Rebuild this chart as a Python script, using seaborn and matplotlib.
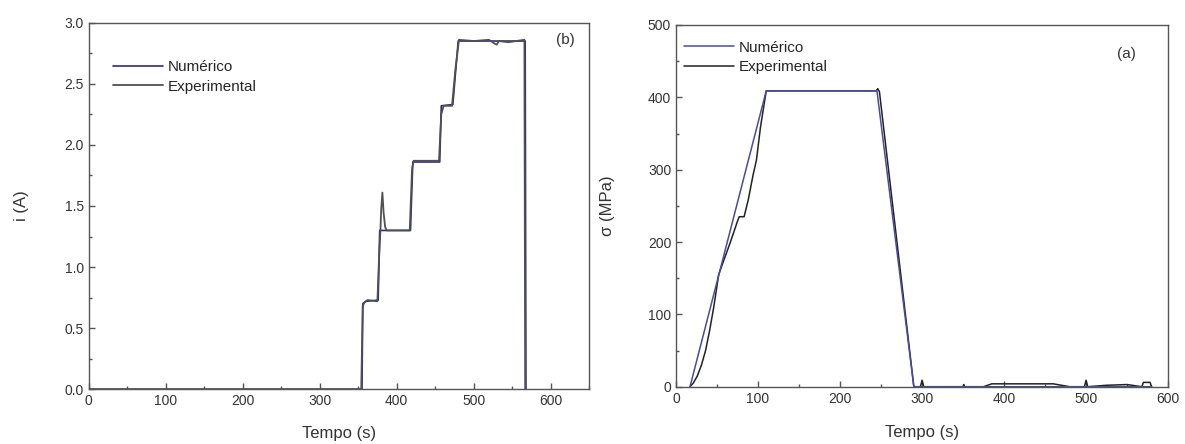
import numpy as np
import pandas as pd
import matplotlib
matplotlib.use("Agg")
import matplotlib.pyplot as plt
from matplotlib.ticker import MultipleLocator
import seaborn as sns

# (b) corrente - numerico / experimental
t_num_i = [0, 355, 356, 360, 376, 378, 418, 421, 456, 458, 473, 480, 567, 568]
i_num = [0, 0, 0.70, 0.72, 0.73, 1.30, 1.30, 1.86, 1.86, 2.32, 2.33, 2.85, 2.85, 0]

t_exp_i = [0, 354, 356, 358, 362, 375, 377, 379, 380, 381.5, 383, 385, 387, 417, 420, 422,
           455, 458, 461, 472, 476, 481, 500, 520, 527, 530, 533, 545, 566, 567]
i_exp = [0, 0, 0.68, 0.71, 0.73, 0.72, 1.05, 1.31, 1.48, 1.61, 1.45, 1.33, 1.30, 1.30, 1.80, 1.87,
         1.87, 2.25, 2.32, 2.32, 2.60, 2.86, 2.85, 2.86, 2.83, 2.82, 2.85, 2.84, 2.86, 0]

# (a) tensao - numerico / experimental
t_num_s = [17, 110, 245, 290, 580]
s_num = [0, 409, 409, 0, 0]

t_exp_s = [17, 21, 26, 31, 36, 41, 46, 52, 58, 66, 75, 77, 83, 88, 94, 98, 103, 110, 190, 244,
           246, 248, 290, 298, 300, 302, 350, 351, 352, 375, 385, 460, 470, 480, 498, 500, 502,
           525, 550, 568, 570, 578, 580]
s_exp = [0, 5, 15, 30, 50, 78, 110, 155, 174, 199, 229, 235, 235, 258, 293, 313, 359, 409, 409, 409,
         412, 408, 0, 0, 9, 0, 0, 3, 0, 0, 4, 4, 2, 0, 0, 9, 0,
         2, 3, 0, 6, 6, 0]

sns.set_style("ticks")
plt.rcParams['font.family'] = ['Liberation Sans', 'DejaVu Sans']
plt.rcParams['axes.edgecolor'] = '#555555'

fig = plt.figure(figsize=(11.85, 4.44), dpi=100, facecolor='white')
ax1 = fig.add_axes([0.0749, 0.1232, 0.4222, 0.8257])
ax2 = fig.add_axes([0.5705, 0.1290, 0.4152, 0.8147])

di_num = pd.DataFrame({'t': t_num_i, 'v': i_num})
di_exp = pd.DataFrame({'t': t_exp_i, 'v': i_exp})
ds_num = pd.DataFrame({'t': t_num_s, 'v': s_num})
ds_exp = pd.DataFrame({'t': t_exp_s, 'v': s_exp})

sns.lineplot(data=di_num, x='t', y='v', ax=ax1, color='#2c2c80', lw=1.2, sort=False,
             estimator=None, label='Numérico')
sns.lineplot(data=di_exp, x='t', y='v', ax=ax1, color='#505050', lw=1.3, sort=False,
             estimator=None, label='Experimental')

sns.lineplot(data=ds_exp, x='t', y='v', ax=ax2, color='#222222', lw=1.1, sort=False,
             estimator=None, label='Experimental')
sns.lineplot(data=ds_num, x='t', y='v', ax=ax2, color='#4a4aa0', lw=1.1, sort=False,
             estimator=None, label='Numérico')

ax1.set_xlim(0, 650)
ax1.set_ylim(0, 3.0)
ax1.xaxis.set_major_locator(MultipleLocator(100))
ax1.xaxis.set_minor_locator(MultipleLocator(50))
ax1.yaxis.set_major_locator(MultipleLocator(0.5))
ax1.yaxis.set_minor_locator(MultipleLocator(0.25))
ax1.yaxis.set_major_formatter(matplotlib.ticker.FormatStrFormatter('%.1f'))

ax2.set_xlim(0, 600)
ax2.set_ylim(0, 500)
ax2.xaxis.set_major_locator(MultipleLocator(100))
ax2.xaxis.set_minor_locator(MultipleLocator(50))
ax2.yaxis.set_major_locator(MultipleLocator(100))
ax2.yaxis.set_minor_locator(MultipleLocator(50))

for ax in (ax1, ax2):
    for s in ax.spines.values():
        s.set_visible(True)
        s.set_color('#555555')
        s.set_linewidth(1.0)
    ax.tick_params(which='both', direction='in', top=False, right=False,
                   colors='#555555', labelcolor='#333333', labelsize=10)
    ax.tick_params(which='major', length=4, width=1)
    ax.tick_params(which='minor', length=2.5, width=1)
    ax.set_xlabel('Tempo (s)', fontsize=12, color='#333333')

ax1.set_ylabel('i (A)', fontsize=12, color='#333333')
ax2.set_ylabel('σ (MPa)', fontsize=12, color='#333333')
ax1.xaxis.set_label_coords(0.5, -0.1)
ax2.xaxis.set_label_coords(0.5, -0.105)
ax1.yaxis.set_label_coords(-0.12, 0.5)
ax2.yaxis.set_label_coords(-0.125, 0.5)

h1, l1 = ax1.get_legend_handles_labels()
ax1.legend(h1, l1, loc='upper left', bbox_to_anchor=(0.02, 0.935), frameon=False,
           fontsize=11, handlelength=3.3, handletextpad=0.3, labelspacing=0.35)
h2, l2 = ax2.get_legend_handles_labels()
ax2.legend([h2[1], h2[0]], [l2[1], l2[0]], loc='upper left', bbox_to_anchor=(-0.012, 0.995),
           frameon=False, fontsize=11, handlelength=3.3, handletextpad=0.3, labelspacing=0.35)

ax1.text(0.953, 0.953, '(b)', transform=ax1.transAxes, ha='center', va='center',
         fontsize=11, color='#333333')
ax2.text(0.915, 0.92, '(a)', transform=ax2.transAxes, ha='center', va='center',
         fontsize=11, color='#333333')

fig.savefig('out.png', dpi=100, facecolor='white')
